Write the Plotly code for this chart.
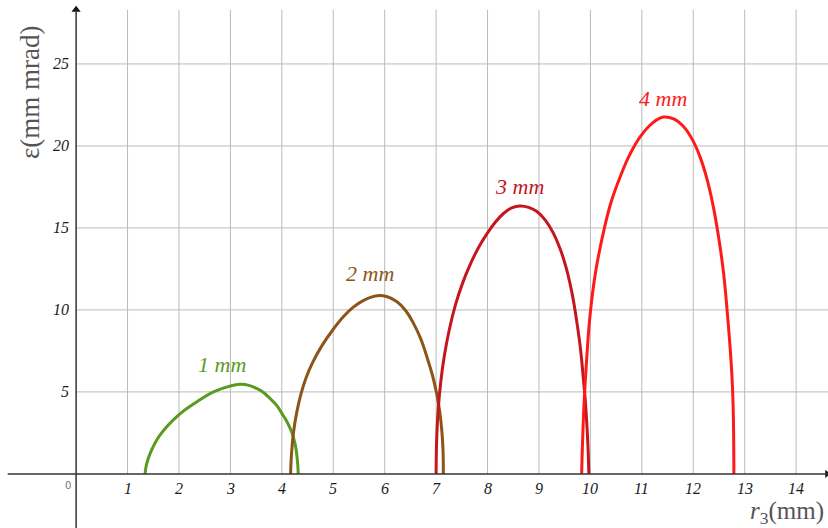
import plotly.graph_objects as go

# ---- data ----
x1 = [1.34, 1.37, 1.44, 1.63, 1.99, 2.35, 2.67, 2.99, 3.19, 3.36, 3.51, 3.65, 3.77, 3.9, 4.0, 4.1, 4.19, 4.26, 4.3, 4.32]
y1 = [0, 0.6, 1.25, 2.36, 3.58, 4.4, 5.0, 5.35, 5.46, 5.4, 5.21, 4.95, 4.6, 4.18, 3.69, 3.18, 2.57, 1.8, 0.9, 0]

x2 = [4.17, 4.19, 4.23, 4.29, 4.37, 4.47, 4.6, 4.78, 5.0, 5.2, 5.39, 5.6, 5.85, 6.05, 6.24, 6.41, 6.56, 6.7, 6.82, 6.93, 7.01, 7.07, 7.11, 7.135, 7.14]
y2 = [0, 1.3, 2.6, 3.75, 4.85, 5.85, 6.8, 7.82, 8.82, 9.6, 10.17, 10.6, 10.87, 10.8, 10.5, 9.95, 9.18, 8.25, 7.14, 6.0, 4.9, 3.8, 2.67, 1.4, 0]

x3 = [7.0, 7.01, 7.04, 7.09, 7.16, 7.26, 7.38, 7.52, 7.67, 7.82, 7.99, 8.15, 8.31, 8.47, 8.63, 8.8, 8.96, 9.13, 9.28, 9.42, 9.54, 9.65, 9.74, 9.81, 9.86, 9.9, 9.93, 9.955, 9.97]
y3 = [0, 2.0, 3.9, 5.6, 7.2, 8.85, 10.35, 11.68, 12.82, 13.78, 14.65, 15.35, 15.88, 16.22, 16.34, 16.25, 16.0, 15.45, 14.68, 13.65, 12.44, 10.9, 9.18, 7.55, 5.92, 4.5, 3.08, 1.5, 0]

x4 = [9.83, 9.85, 9.88, 9.93, 9.99, 10.1, 10.25, 10.4, 10.58, 10.77, 10.97, 11.2, 11.42, 11.62, 11.81, 11.98, 12.13, 12.27, 12.39, 12.5, 12.59, 12.66, 12.72, 12.76, 12.78, 12.79]
y4 = [0, 2.2, 4.5, 7.1, 9.58, 12.3, 14.68, 16.55, 18.13, 19.5, 20.57, 21.38, 21.76, 21.65, 21.18, 20.4, 19.35, 17.95, 16.3, 14.3, 12.23, 9.9, 7.55, 5.5, 3.48, 0]

series_x = [x1, x2, x3, x4]
series_y = [y1, y2, y3, y4]
labels = ["1 mm", "2 mm", "3 mm", "4 mm"]
label_pos = [(2.84, 6.7), (5.72, 12.25), (8.63, 17.5), (11.41, 22.9)]
colors = ["#5a9a1e", "#8c5518", "#c4161c", "#ff1a1a"]

x_ticks = list(range(1, 15))
y_ticks = [5, 10, 15, 20, 25]

X_RANGE = [-1.48, 14.62]
Y_RANGE = [-3.3, 28.9]
Y_TOP = 28.3

fig = go.Figure()

# grid (first quadrant only)
shapes = []
for xv in x_ticks:
    shapes.append(dict(type="line", xref="x", yref="y", x0=xv, x1=xv, y0=0, y1=Y_TOP,
                       line=dict(color="#bababa", width=1), layer="below"))
for yv in y_ticks:
    shapes.append(dict(type="line", xref="x", yref="y", x0=0, x1=X_RANGE[1], y0=yv, y1=yv,
                       line=dict(color="#bababa", width=1), layer="below"))
# axes lines
shapes.append(dict(type="line", xref="x", yref="y", x0=X_RANGE[0] + 0.15, x1=X_RANGE[1], y0=0, y1=0,
                   line=dict(color="#333333", width=1.5)))
shapes.append(dict(type="line", xref="x", yref="y", x0=0, x1=0, y0=Y_RANGE[0], y1=Y_TOP,
                   line=dict(color="#333333", width=1.5)))

for xs, ys, c in zip(series_x, series_y, colors):
    fig.add_trace(go.Scatter(x=xs, y=ys, mode="lines", line=dict(color=c, width=3, shape="spline", smoothing=1.2),
                             hoverinfo="skip", showlegend=False))

# arrow heads
fig.add_trace(go.Scatter(x=[0], y=[Y_TOP], mode="markers",
                         marker=dict(symbol="triangle-up", size=8, color="#111111"),
                         showlegend=False, hoverinfo="skip"))
fig.add_trace(go.Scatter(x=[X_RANGE[1] - 0.02], y=[0], mode="markers",
                         marker=dict(symbol="triangle-right", size=7, color="#111111"),
                         showlegend=False, hoverinfo="skip"))

W, H = 828, 528
ann = []
tick_font = dict(family="Liberation Serif", size=16, color="#1a1a1a")
for xv in x_ticks:
    ann.append(dict(x=xv, y=0, xref="x", yref="y", text=f"<i>{xv}</i>", showarrow=False,
                    xanchor="center", yanchor="top", yshift=-4, font=tick_font))
for yv in y_ticks:
    ann.append(dict(x=0, y=yv, xref="x", yref="y", text=f"<i>{yv}</i>", showarrow=False,
                    xanchor="right", yanchor="middle", xshift=-5, font=tick_font))
ann.append(dict(x=0, y=0, xref="x", yref="y", text="0", showarrow=False, xanchor="right",
                yanchor="top", xshift=-3, yshift=-4, font=dict(family="DejaVu Sans", size=10, color="#777777")))

for (lx, ly), t, c in zip(label_pos, labels, colors):
    ann.append(dict(x=lx, y=ly, xref="x", yref="y", text=f"<i>{t}</i>", showarrow=False,
                    xanchor="center", yanchor="middle", font=dict(family="Liberation Serif", size=22, color=c)))

ann.append(dict(x=30 / W, y=1 - 92 / H, xref="paper", yref="paper", text="ε(mm mrad)", showarrow=False,
                textangle=-90, xanchor="center", yanchor="middle",
                font=dict(family="Liberation Serif", size=27, color="#555555")))
ann.append(dict(x=826 / W, y=1 - 512 / H, xref="paper", yref="paper",
                text="<i>r</i><sub>3</sub>(mm)", showarrow=False, xanchor="right", yanchor="middle",
                font=dict(family="Liberation Serif", size=25, color="#555555")))

fig.update_layout(
    width=W, height=H, margin=dict(l=0, r=0, t=0, b=0),
    paper_bgcolor="white", plot_bgcolor="white",
    shapes=shapes, annotations=ann,
    xaxis=dict(range=X_RANGE, visible=False, fixedrange=True),
    yaxis=dict(range=Y_RANGE, visible=False, fixedrange=True),
    showlegend=False,
)

fig.write_html("out.html")
